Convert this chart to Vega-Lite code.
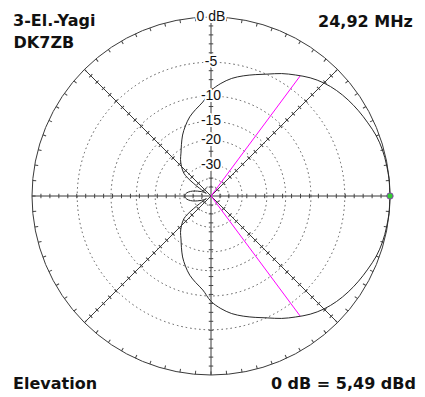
{
  "$schema": "https://vega.github.io/schema/vega-lite/v6.json",
  "autosize": {"type": "none"},
  "padding": {"left": 32, "top": 17, "right": 35, "bottom": 22},
  "width": 358,
  "height": 358,
  "background": "white",
  "config": {"view": {"stroke": null}},
  "datasets": {
    "pattern": [
      {"a": 0, "db": 0}, {"a": 5, "db": -0.01}, {"a": 10, "db": -0.07}, {"a": 15, "db": -0.14},
      {"a": 20, "db": -0.3}, {"a": 25, "db": -0.58}, {"a": 30, "db": -0.85}, {"a": 35, "db": -1.15},
      {"a": 40, "db": -1.5}, {"a": 45, "db": -1.95}, {"a": 50, "db": -2.55}, {"a": 55, "db": -3.3},
      {"a": 60, "db": -4.05}, {"a": 65, "db": -4.9}, {"a": 70, "db": -5.6}, {"a": 75, "db": -6.25},
      {"a": 80, "db": -6.95}, {"a": 85, "db": -7.9}, {"a": 90, "db": -9.1}, {"a": 95, "db": -11.0},
      {"a": 100, "db": -12.2}, {"a": 105, "db": -13.4}, {"a": 110, "db": -15.0}, {"a": 115, "db": -16.8},
      {"a": 120, "db": -19.0}, {"a": 125, "db": -21.1}, {"a": 130, "db": -22.8}, {"a": 135, "db": -25.0},
      {"a": 140, "db": -27.8}, {"a": 142, "db": -30.5}, {"a": 144, "db": -36}, {"a": 146, "db": -44},
      {"a": 148, "db": -52}, {"a": 150, "db": -60}, {"a": 152, "db": -55}, {"a": 155, "db": -49},
      {"a": 160, "db": -43.5}, {"a": 165, "db": -38.5}, {"a": 170, "db": -35.3}, {"a": 175, "db": -33.5},
      {"a": 180, "db": -33},
      {"a": 185, "db": -33.5}, {"a": 190, "db": -35.3}, {"a": 195, "db": -38.5}, {"a": 200, "db": -43.5},
      {"a": 205, "db": -49}, {"a": 208, "db": -55}, {"a": 210, "db": -60}, {"a": 212, "db": -52},
      {"a": 214, "db": -44}, {"a": 216, "db": -36}, {"a": 218, "db": -30.5}, {"a": 220, "db": -27.8},
      {"a": 225, "db": -25.0}, {"a": 230, "db": -22.8}, {"a": 235, "db": -21.1}, {"a": 240, "db": -19.0},
      {"a": 245, "db": -16.8}, {"a": 250, "db": -15.0}, {"a": 255, "db": -13.4}, {"a": 260, "db": -12.2},
      {"a": 265, "db": -11.0}, {"a": 270, "db": -9.1}, {"a": 275, "db": -7.9}, {"a": 280, "db": -6.95},
      {"a": 285, "db": -6.25}, {"a": 290, "db": -5.6}, {"a": 295, "db": -4.9}, {"a": 300, "db": -4.05},
      {"a": 305, "db": -3.3}, {"a": 310, "db": -2.55}, {"a": 315, "db": -1.95}, {"a": 320, "db": -1.5},
      {"a": 325, "db": -1.15}, {"a": 330, "db": -0.85}, {"a": 335, "db": -0.58}, {"a": 340, "db": -0.3},
      {"a": 345, "db": -0.14}, {"a": 350, "db": -0.07}, {"a": 355, "db": -0.01}, {"a": 360, "db": 0}
    ],
    "rings": [{"db": -5}, {"db": -10}, {"db": -15}, {"db": -20}, {"db": -30}, {"db": -40}, {"db": -50}],
    "outer": [{"db": 0}],
    "axes": [{"a": 0}, {"a": 45}, {"a": 90}, {"a": 135}],
    "axisticks": [
      {"a": 0, "t": [-0.95,-0.9,-0.85,-0.8,-0.75,-0.7,-0.65,-0.6,-0.55,-0.5,-0.45,-0.4,-0.35,-0.3,-0.25,-0.2,-0.15,-0.1,-0.05,0.05,0.1,0.15,0.2,0.25,0.3,0.35,0.4,0.45,0.5,0.55,0.6,0.65,0.7,0.75,0.8,0.85,0.9,0.95]},
      {"a": 45, "t": [-0.95,-0.9,-0.85,-0.8,-0.75,-0.7,-0.65,-0.6,-0.55,-0.5,-0.45,-0.4,-0.35,-0.3,-0.25,-0.2,-0.15,-0.1,-0.05,0.05,0.1,0.15,0.2,0.25,0.3,0.35,0.4,0.45,0.5,0.55,0.6,0.65,0.7,0.75,0.8,0.85,0.9,0.95]},
      {"a": 90, "t": [-0.95,-0.9,-0.85,-0.8,-0.75,-0.7,-0.65,-0.6,-0.55,-0.5,-0.45,-0.4,-0.35,-0.3,-0.25,-0.2,-0.15,-0.1,-0.05,0.05,0.1,0.15,0.2,0.25,0.3,0.35,0.4,0.45,0.5,0.55,0.6,0.65,0.7,0.75,0.8,0.85,0.9,0.95]},
      {"a": 135, "t": [-0.95,-0.9,-0.85,-0.8,-0.75,-0.7,-0.65,-0.6,-0.55,-0.5,-0.45,-0.4,-0.35,-0.3,-0.25,-0.2,-0.15,-0.1,-0.05,0.05,0.1,0.15,0.2,0.25,0.3,0.35,0.4,0.45,0.5,0.55,0.6,0.65,0.7,0.75,0.8,0.85,0.9,0.95]}
    ],
    "outerticks": [
      {"a": 0}, {"a": 5}, {"a": 10}, {"a": 15}, {"a": 20}, {"a": 25}, {"a": 30}, {"a": 35}, {"a": 40}, {"a": 45}, {"a": 50}, {"a": 55},
      {"a": 60}, {"a": 65}, {"a": 70}, {"a": 75}, {"a": 80}, {"a": 85}, {"a": 90}, {"a": 95}, {"a": 100}, {"a": 105}, {"a": 110}, {"a": 115},
      {"a": 120}, {"a": 125}, {"a": 130}, {"a": 135}, {"a": 140}, {"a": 145}, {"a": 150}, {"a": 155}, {"a": 160}, {"a": 165}, {"a": 170}, {"a": 175},
      {"a": 180}, {"a": 185}, {"a": 190}, {"a": 195}, {"a": 200}, {"a": 205}, {"a": 210}, {"a": 215}, {"a": 220}, {"a": 225}, {"a": 230}, {"a": 235},
      {"a": 240}, {"a": 245}, {"a": 250}, {"a": 255}, {"a": 260}, {"a": 265}, {"a": 270}, {"a": 275}, {"a": 280}, {"a": 285}, {"a": 290}, {"a": 295},
      {"a": 300}, {"a": 305}, {"a": 310}, {"a": 315}, {"a": 320}, {"a": 325}, {"a": 330}, {"a": 335}, {"a": 340}, {"a": 345}, {"a": 350}, {"a": 355}
    ],
    "beam": [{"a": 53.4, "db": -3.1}, {"a": -53.4, "db": -3.1}],
    "ringlabels": [
      {"db": 0, "label": "0 dB"}, {"db": -5, "label": "-5"}, {"db": -10, "label": "-10"},
      {"db": -15, "label": "-15"}, {"db": -20, "label": "-20"}, {"db": -30, "label": "-30"}
    ],
    "notes": [
      {"label": "3-El.-Yagi", "px": -1.106, "py": 0.95, "side": "left"},
      {"label": "DK7ZB", "px": -1.103, "py": 0.827, "side": "left"},
      {"label": "Elevation", "px": -1.106, "py": -1.078, "side": "left"},
      {"label": "24,92 MHz", "px": 1.128, "py": 0.946, "side": "right"},
      {"label": "0 dB = 5,49 dBd", "px": 1.145, "py": -1.078, "side": "right"}
    ]
  },
  "layer": [
    {
      "data": {"name": "rings"},
      "transform": [{"calculate": "pow(0.89, -datum.db/2)", "as": "r"}],
      "mark": {"type": "point", "shape": "circle", "filled": false, "stroke": "#555555", "strokeWidth": 1, "strokeDash": [1.5, 3], "opacity": 1},
      "encoding": {
        "x": {"datum": 0, "type": "quantitative", "scale": {"domain": [-1, 1], "nice": false, "zero": false}, "axis": null},
        "y": {"datum": 0, "type": "quantitative", "scale": {"domain": [-1, 1], "nice": false, "zero": false}, "axis": null},
        "size": {"field": "r", "type": "quantitative", "scale": {"type": "pow", "exponent": 2, "domain": [0, 1], "range": [0, 128164], "zero": true}, "legend": null}
      }
    },
    {
      "data": {"name": "outer"},
      "transform": [{"calculate": "pow(0.89, -datum.db/2)", "as": "r"}],
      "mark": {"type": "point", "shape": "circle", "filled": false, "stroke": "#3a3a3a", "strokeWidth": 1, "opacity": 1},
      "encoding": {
        "x": {"datum": 0, "type": "quantitative"},
        "y": {"datum": 0, "type": "quantitative"},
        "size": {"field": "r", "type": "quantitative", "scale": {"type": "pow", "exponent": 2, "domain": [0, 1], "range": [0, 128164], "zero": true}, "legend": null}
      }
    },
    {
      "data": {"name": "axes"},
      "transform": [
        {"calculate": "cos(datum.a*PI/180)", "as": "x"},
        {"calculate": "sin(datum.a*PI/180)", "as": "y"},
        {"calculate": "-datum.x", "as": "nx"},
        {"calculate": "-datum.y", "as": "ny"}
      ],
      "mark": {"type": "rule", "color": "#3a3a3a", "strokeWidth": 1},
      "encoding": {
        "x": {"field": "nx", "type": "quantitative"},
        "y": {"field": "ny", "type": "quantitative"},
        "x2": {"field": "x"},
        "y2": {"field": "y"}
      }
    },
    {
      "data": {"name": "axisticks"},
      "transform": [
        {"flatten": ["t"]},
        {"calculate": "datum.t*cos(datum.a*PI/180)", "as": "x"},
        {"calculate": "datum.t*sin(datum.a*PI/180)", "as": "y"},
        {"calculate": "(450 - datum.a) % 360", "as": "rot"}
      ],
      "mark": {"type": "point", "shape": "stroke", "size": 20, "strokeWidth": 1, "color": "#444444", "opacity": 1},
      "encoding": {
        "x": {"field": "x", "type": "quantitative"},
        "y": {"field": "y", "type": "quantitative"},
        "angle": {"field": "rot", "type": "quantitative", "scale": null}
      }
    },
    {
      "data": {"name": "outerticks"},
      "transform": [
        {"calculate": "0.99*cos(datum.a*PI/180)", "as": "x"},
        {"calculate": "0.99*sin(datum.a*PI/180)", "as": "y"},
        {"calculate": "(360 - datum.a) % 360", "as": "rot"}
      ],
      "mark": {"type": "point", "shape": "stroke", "size": 12, "strokeWidth": 1, "color": "#444444", "opacity": 1},
      "encoding": {
        "x": {"field": "x", "type": "quantitative"},
        "y": {"field": "y", "type": "quantitative"},
        "angle": {"field": "rot", "type": "quantitative", "scale": null}
      }
    },
    {
      "data": {"name": "beam"},
      "transform": [
        {"calculate": "pow(0.89, -datum.db/2)", "as": "r"},
        {"calculate": "datum.r*cos(datum.a*PI/180)", "as": "x"},
        {"calculate": "datum.r*sin(datum.a*PI/180)", "as": "y"},
        {"calculate": "0", "as": "o"}
      ],
      "mark": {"type": "rule", "color": "#ff00ff", "strokeWidth": 1},
      "encoding": {
        "x": {"field": "o", "type": "quantitative"},
        "y": {"field": "o", "type": "quantitative"},
        "x2": {"field": "x"},
        "y2": {"field": "y"}
      }
    },
    {
      "data": {"name": "pattern"},
      "transform": [
        {"calculate": "pow(0.89, -datum.db/2)", "as": "r"},
        {"calculate": "datum.r*cos(datum.a*PI/180)", "as": "x"},
        {"calculate": "datum.r*sin(datum.a*PI/180)", "as": "y"}
      ],
      "mark": {"type": "line", "color": "#2a2a2a", "strokeWidth": 1, "interpolate": "catmull-rom"},
      "encoding": {
        "x": {"field": "x", "type": "quantitative"},
        "y": {"field": "y", "type": "quantitative"},
        "order": {"field": "a", "type": "quantitative"}
      }
    },
    {
      "data": {"name": "outer"},
      "transform": [{"calculate": "pow(0.89, -datum.db/2)", "as": "r"}, {"calculate": "0", "as": "o"}],
      "mark": {"type": "point", "shape": "circle", "filled": true, "size": 40, "fill": "#33cc33", "stroke": "#8844aa", "strokeWidth": 1, "opacity": 1},
      "encoding": {
        "x": {"field": "r", "type": "quantitative"},
        "y": {"field": "o", "type": "quantitative"}
      }
    },
    {
      "data": {"name": "ringlabels"},
      "transform": [{"calculate": "pow(0.89, -datum.db/2)", "as": "r"}, {"calculate": "0", "as": "o"}],
      "mark": {"type": "text", "font": "Liberation Sans", "fontSize": 14, "align": "center", "baseline": "middle", "stroke": "white", "strokeWidth": 4, "fill": "white", "strokeJoin": "round"},
      "encoding": {
        "x": {"field": "o", "type": "quantitative"},
        "y": {"field": "r", "type": "quantitative"},
        "text": {"field": "label"}
      }
    },
    {
      "data": {"name": "ringlabels"},
      "transform": [{"calculate": "pow(0.89, -datum.db/2)", "as": "r"}, {"calculate": "0", "as": "o"}],
      "mark": {"type": "text", "font": "Liberation Sans", "fontSize": 14, "align": "center", "baseline": "middle", "color": "#111"},
      "encoding": {
        "x": {"field": "o", "type": "quantitative"},
        "y": {"field": "r", "type": "quantitative"},
        "text": {"field": "label"}
      }
    },
    {
      "data": {"name": "notes"},
      "transform": [{"filter": "datum.side == 'left'"}],
      "mark": {"type": "text", "font": "DejaVu Sans", "fontWeight": "bold", "fontSize": 16, "align": "left", "baseline": "alphabetic", "color": "#111"},
      "encoding": {
        "x": {"field": "px", "type": "quantitative"},
        "y": {"field": "py", "type": "quantitative"},
        "text": {"field": "label"}
      }
    },
    {
      "data": {"name": "notes"},
      "transform": [{"filter": "datum.side == 'right'"}],
      "mark": {"type": "text", "font": "DejaVu Sans", "fontWeight": "bold", "fontSize": 16, "align": "right", "baseline": "alphabetic", "color": "#111"},
      "encoding": {
        "x": {"field": "px", "type": "quantitative"},
        "y": {"field": "py", "type": "quantitative"},
        "text": {"field": "label"}
      }
    }
  ]
}
